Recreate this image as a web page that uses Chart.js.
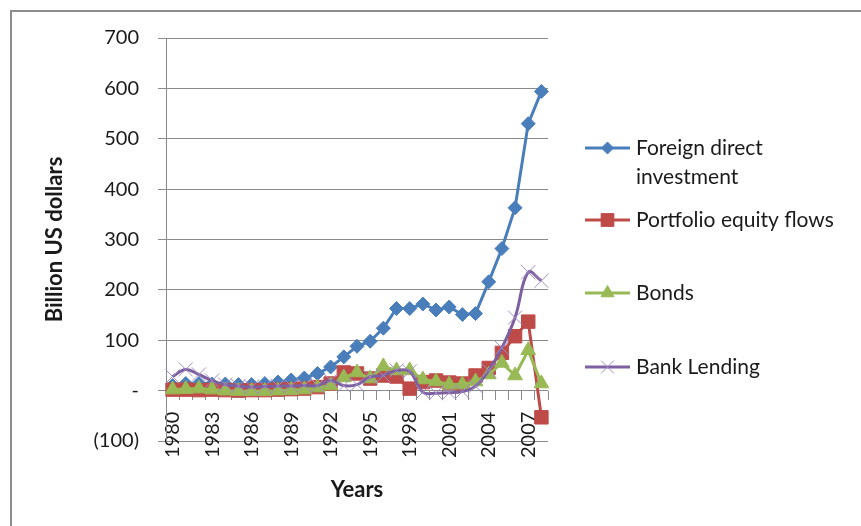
<!DOCTYPE html>
<html>
<head>
<meta charset="utf-8">
<script src="https://cdn.jsdelivr.net/npm/chart.js@4/dist/chart.umd.min.js"></script>
<style>
    html, body { margin: 0; padding: 0; background: #fff; }
    #wrap { width: 861px; height: 526px; }
</style>
</head>
<body>
<div id="wrap"><canvas id="flowsChart" width="861" height="526"></canvas></div>
<script>
const years = ["1980", "1981", "1982", "1983", "1984", "1985", "1986", "1987", "1988", "1989",
    "1990", "1991", "1992", "1993", "1994", "1995", "1996", "1997", "1998", "1999",
    "2000", "2001", "2002", "2003", "2004", "2005", "2006", "2007", "2008"];

const fdi = [10, 14, 14, 13, 13, 12, 12, 14, 17, 21, 25, 34, 47, 67, 88, 98, 124, 163, 163, 172,
    160, 166, 151, 153, 216, 282, 363, 530, 594];
const portfolio = [2, 2, 1, 2, 1, 0, 1, 1, 2, 3, 4, 7, 14, 36, 34, 24, 30, 28, 4, 17,
    20, 16, 14, 30, 45, 75, 108, 137, -53];
const bonds = [2, 3, 4, 2, 0, -1, -1, -1, 0, 1, 2, 6, 10, 26, 36, 24, 48, 40, 40, 22,
    18, 12, 12, 18, 32, 55, 30, 80, 14];
const bankLending = [28, 42, 32, 20, 12, 9, 7, 8, 9, 9, 10, 10, 20, 10, 12, 27, 30, 40, 38, -3,
    -5, -4, -2, 9, 40, 85, 145, 235, 218];

const seriesNames = ["Foreign direct investment", "Portfolio equity flows", "Bonds", "Bank Lending"];

const yTicks = [-100, 0, 100, 200, 300, 400, 500, 600, 700];
const yTickText = ["(100)", "-", "100", "200", "300", "400", "500", "600", "700"];

const GRID = "#8a8a8a";
const FONT = "Lato";

Chart.defaults.font.family = FONT;
Chart.defaults.color = "#1a1a1a";

function series(label, data, color, style, radius, order, extra) {
    return Object.assign({
        label: label,
        data: data,
        borderColor: color,
        backgroundColor: color,
        borderWidth: 3,
        pointStyle: style,
        pointRadius: radius,
        pointBackgroundColor: color,
        pointBorderColor: color,
        pointBorderWidth: 1,
        tension: 0,
        order: order
    }, extra || {});
}

// frame round the chart (top and left edges only are in view)
const framePlugin = {
    id: "frame",
    beforeDraw(chart) {
        const ctx = chart.ctx;
        ctx.save();
        ctx.strokeStyle = "#8c8c8c";
        ctx.lineWidth = 2;
        ctx.beginPath();
        ctx.moveTo(11, 700);
        ctx.lineTo(11, 11);
        ctx.lineTo(1000, 11);
        ctx.stroke();
        ctx.restore();
    }
};

// legend on the right: line with marker, text wrapped, entries spread down
const sideLegend = {
    id: "sideLegend",
    afterDraw(chart) {
        const ctx = chart.ctx;
        const rows = [148, 220, 293, 367];
        const x0 = 585, x1 = 630, tx = 636, maxW = 212;
        ctx.save();
        ctx.font = "21px " + FONT;
        ctx.textBaseline = "middle";
        ctx.textAlign = "left";
        seriesNames.forEach((name, i) => {
            const ds = chart.data.datasets[i];
            const y = rows[i];
            ctx.strokeStyle = ds.borderColor;
            ctx.lineWidth = 3;
            ctx.beginPath();
            ctx.moveTo(x0, y);
            ctx.lineTo(x1, y);
            ctx.stroke();

            ctx.fillStyle = ds.pointBackgroundColor;
            ctx.strokeStyle = ds.pointBorderColor;
            ctx.lineWidth = 1;
            Chart.helpers.drawPoint(ctx, {
                pointStyle: ds.pointStyle,
                radius: ds.legendRadius,
                borderWidth: 1,
                rotation: 0
            }, (x0 + x1) / 2, y);

            // word wrap
            const words = name.split(" ");
            const lines = [];
            let line = "";
            words.forEach(w => {
                const test = line ? line + " " + w : w;
                if (ctx.measureText(test).width > maxW && line) {
                    lines.push(line);
                    line = w;
                } else {
                    line = test;
                }
            });
            lines.push(line);
            ctx.fillStyle = "#1a1a1a";
            lines.forEach((l, k) => ctx.fillText(l, tx, y + k * 29));
        });
        ctx.restore();
    }
};

const ctx = document.getElementById("flowsChart").getContext("2d");
new Chart(ctx, {
    type: "line",
    data: {
        labels: years,
        datasets: [
            series(seriesNames[0], fdi, "#4A7EBB", "rectRot", 7, 3, { legendRadius: 6 }),
            series(seriesNames[1], portfolio, "#BE4B48", "rect", 9.5, 2, { legendRadius: 9 }),
            series(seriesNames[2], bonds, "#98B954", "triangle", 8.5, 1, { legendRadius: 7.5 }),
            series(seriesNames[3], bankLending, "#7D60A0", "crossRot", 10, 0, {
                tension: 0.4,
                pointBorderColor: "#A08CC4",
                pointBackgroundColor: "#A08CC4",
                legendRadius: 9
            })
        ]
    },
    options: {
        responsive: false,
        animation: false,
        events: [],
        layout: { padding: { left: 0, top: 38, right: 313, bottom: 85 } },
        plugins: {
            legend: { display: false },
            tooltip: { enabled: false }
        },
        scales: {
            x: {
                type: "category",
                position: { y: 0 },
                offset: true,
                border: { display: false },
                grid: {
                    display: true,
                    offset: true,
                    drawOnChartArea: false,
                    drawTicks: true,
                    tickLength: 9,
                    color: GRID
                },
                ticks: {
                    autoSkip: false,
                    minRotation: 90,
                    maxRotation: 90,
                    padding: 12,
                    font: { size: 20 },
                    callback: (v, i) => (i % 3 === 0 ? years[i] : "")
                },
                title: {
                    display: true,
                    text: "Years",
                    font: { size: 22, weight: "bold" },
                    padding: { top: 7, bottom: 0 }
                },
                afterFit(scale) {
                    scale.paddingLeft = 0;
                    scale.paddingRight = 0;
                }
            },
            y: {
                min: -100,
                max: 700,
                afterBuildTicks(scale) {
                    scale.ticks = yTicks.map(v => ({ value: v }));
                },
                ticks: {
                    padding: 19,
                    font: { size: 20 },
                    callback: (v) => yTickText[yTicks.indexOf(v)]
                },
                grid: { color: GRID, tickLength: 8, lineWidth: 1 },
                border: { color: GRID, width: 1 },
                title: {
                    display: true,
                    text: "Billion US dollars",
                    font: { size: 22, weight: "bold" },
                    padding: { top: 42, bottom: 0 }
                },
                afterFit(scale) {
                    scale.width = 166;
                    scale.paddingTop = 0;
                    scale.paddingBottom = 0;
                }
            }
        }
    },
    plugins: [framePlugin, sideLegend]
});
</script>
</body>
</html>
